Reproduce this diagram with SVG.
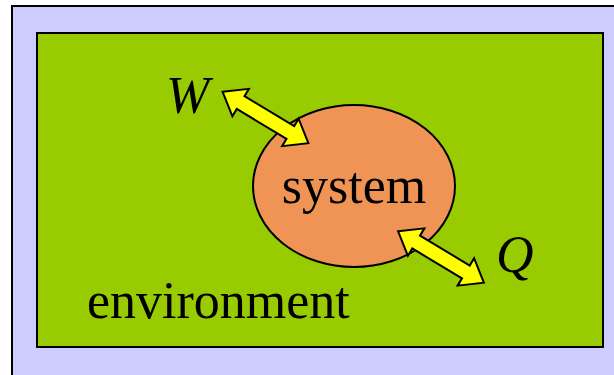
<svg xmlns="http://www.w3.org/2000/svg" width="614" height="375" viewBox="0 0 614 375">
<style>
.lbl{font-family:"Liberation Serif","Times New Roman",serif;font-size:52px;fill:#000}
.it{font-style:italic}
.arr{fill:#ffff00;stroke:#000;stroke-width:2;stroke-linejoin:miter}
</style>
<defs>
<path id="dblarrow" d="M -50 0 L -29 -16 L -29 -7.5 L 29 -7.5 L 29 -16 L 50 0 L 29 16 L 29 7.5 L -29 7.5 L -29 16 Z"/>
</defs>
<rect x="0" y="0" width="614" height="375" fill="#ffffff"/>
<g id="frame">
<rect x="12" y="6" width="620" height="380" fill="#ccccff" stroke="#000" stroke-width="2"/>
</g>
<g id="environment">
<rect x="37" y="33" width="566" height="314" fill="#99cc00" stroke="#000" stroke-width="2"/>
<text class="lbl" x="87" y="318">environment</text>
</g>
<g id="system">
<ellipse cx="354" cy="186" rx="101" ry="81" fill="#f09456" stroke="#000" stroke-width="2"/>
<text class="lbl" x="354" y="203" text-anchor="middle">system</text>
</g>
<g id="W">
<text class="lbl it" x="166" y="113">W</text>
</g>
<g id="Q">
<text class="lbl it" x="496" y="272">Q</text>
</g>
<g id="connectors">
<use href="#dblarrow" class="arr" transform="translate(265.5,117.5) rotate(31)"/>
<use href="#dblarrow" class="arr" transform="translate(441,257) rotate(31)"/>
</g>
</svg>
